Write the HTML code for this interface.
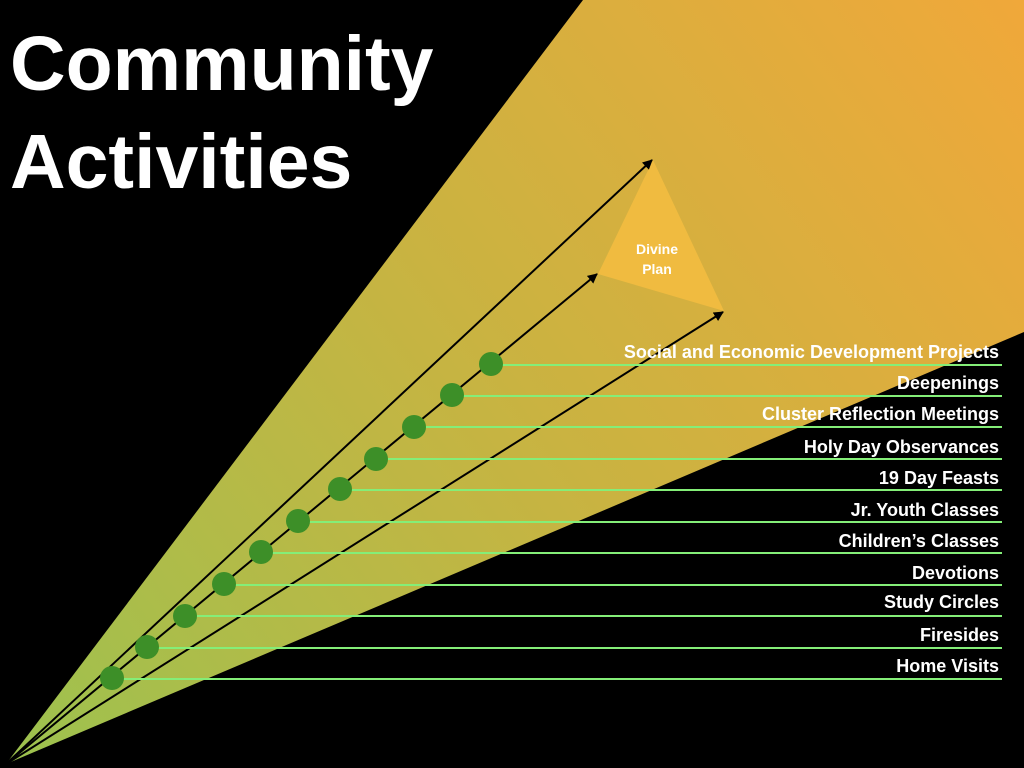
<!DOCTYPE html>
<html><head><style>
html,body{margin:0;padding:0;background:#000;}
svg{display:block}
</style></head><body>
<svg width="1024" height="768" viewBox="0 0 1024 768" xmlns="http://www.w3.org/2000/svg">
<defs>
<linearGradient id="g" x1="0" y1="768" x2="1024" y2="0" gradientUnits="userSpaceOnUse">
<stop offset="0" stop-color="#9cc24f"/>
<stop offset="0.5" stop-color="#c9b341"/>
<stop offset="1" stop-color="#f0a83a"/>
</linearGradient>
<marker id="a" markerWidth="10" markerHeight="10" refX="9" refY="5" orient="auto" markerUnits="userSpaceOnUse">
<path d="M0,0 L10,5 L0,10 Z" fill="#000"/>
</marker>
</defs>
<rect width="1024" height="768" fill="#000"/>
<polygon points="6,764 583,0 1024,0 1024,332" fill="url(#g)"/>
<polygon points="653,160 598,274 724,311" fill="#f0bb40"/>
<text x="657" y="254" font-family="Liberation Sans, sans-serif" font-weight="bold" font-size="14" fill="#fff" text-anchor="middle">Divine</text>
<text x="657" y="274" font-family="Liberation Sans, sans-serif" font-weight="bold" font-size="14" fill="#fff" text-anchor="middle">Plan</text>
<g stroke="#000" stroke-width="2" marker-end="url(#a)">
<line x1="6" y1="764" x2="652" y2="160"/>
<line x1="6" y1="764" x2="597" y2="274"/>
<line x1="6" y1="764" x2="723" y2="312"/>
</g>
<g stroke="#84ee78" stroke-width="2">
<line x1="112" y1="679" x2="1002" y2="679"/>
<line x1="147" y1="648" x2="1002" y2="648"/>
<line x1="185" y1="616" x2="1002" y2="616"/>
<line x1="224" y1="585" x2="1002" y2="585"/>
<line x1="261" y1="553" x2="1002" y2="553"/>
<line x1="298" y1="522" x2="1002" y2="522"/>
<line x1="340" y1="490" x2="1002" y2="490"/>
<line x1="376" y1="459" x2="1002" y2="459"/>
<line x1="414" y1="427" x2="1002" y2="427"/>
<line x1="452" y1="396" x2="1002" y2="396"/>
<line x1="491" y1="365" x2="1002" y2="365"/>
</g>
<g fill="#3d8f28">
<circle cx="112" cy="678" r="12"/>
<circle cx="147" cy="647" r="12"/>
<circle cx="185" cy="616" r="12"/>
<circle cx="224" cy="584" r="12"/>
<circle cx="261" cy="552" r="12"/>
<circle cx="298" cy="521" r="12"/>
<circle cx="340" cy="489" r="12"/>
<circle cx="376" cy="459" r="12"/>
<circle cx="414" cy="427" r="12"/>
<circle cx="452" cy="395" r="12"/>
<circle cx="491" cy="364" r="12"/>
</g>
<g font-family="Liberation Sans, sans-serif" font-weight="bold" font-size="18" fill="#fff" text-anchor="end">
<text x="999" y="358">Social and Economic Development Projects</text>
<text x="999" y="389">Deepenings</text>
<text x="999" y="420">Cluster Reflection Meetings</text>
<text x="999" y="453">Holy Day Observances</text>
<text x="999" y="484">19 Day Feasts</text>
<text x="999" y="516">Jr. Youth Classes</text>
<text x="999" y="547">Children’s Classes</text>
<text x="999" y="579">Devotions</text>
<text x="999" y="608">Study Circles</text>
<text x="999" y="641">Firesides</text>
<text x="999" y="672">Home Visits</text>
</g>
<g font-family="Liberation Sans, sans-serif" font-weight="bold" font-size="77" fill="#fff">
<text x="10" y="90">Community</text>
<text x="10" y="188">Activities</text>
</g>
</svg>
</body></html>
